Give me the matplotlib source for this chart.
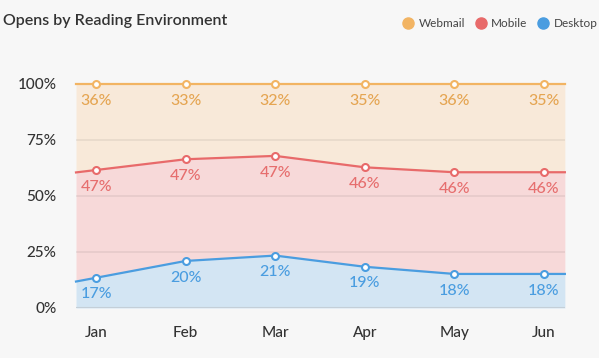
import numpy as np
import matplotlib.pyplot as plt
from matplotlib.lines import Line2D

plt.rcParams["font.family"] = ["Lato", "DejaVu Sans"]

# Data
months = ["Jan", "Feb", "Mar", "Apr", "May", "Jun"]
# plotted shares (as drawn in the chart)
desktop = [13.5, 21.0, 23.4, 18.4, 15.2, 15.2]
mobile = [48.1, 45.4, 44.5, 44.4, 45.4, 45.4]
webmail = [38.4, 33.6, 32.1, 37.2, 39.4, 39.4]
# printed labels
desktop_labels = [17, 20, 21, 19, 18, 18]
mobile_labels = [47, 47, 47, 46, 46, 46]
webmail_labels = [36, 33, 32, 35, 36, 35]
yticks = [0, 25, 50, 75, 100]

bg = "#f7f7f7"
series = [
    ("Desktop", desktop, desktop_labels, "#4a9de0", "#d3e5f3", "#4a9de0"),
    ("Mobile", mobile, mobile_labels, "#e86a6a", "#f7d9d9", "#e66e6e"),
    ("Webmail", webmail, webmail_labels, "#f2b463", "#f8e9d9", "#e5a552"),
]

fig = plt.figure(figsize=(5.99, 3.58), dpi=100, facecolor=bg)
ax = fig.add_axes([0.1269, 0.1397, 0.8161, 0.6257])
ax.set_facecolor(bg)

x = np.arange(len(months))
x0, x1 = -0.225, len(months) - 1 + 0.235
ax.set_xlim(x0, x1)
ax.set_ylim(0, 100)


def extend(vals):
    # continue the first and last segments out to the plot edges
    v = np.asarray(vals, dtype=float)
    left = v[0] + (v[1] - v[0]) * (x0 - x[0])
    right = v[-1] + (v[-1] - v[-2]) * (x1 - x[-1])
    return np.r_[x0, x, x1], np.r_[left, v, right]


base = np.zeros(len(months))
for name, vals, labels, lc, fc, tc in series:
    top = base + np.array(vals)
    xe, be = extend(base)
    _, te = extend(top)
    if name == "Desktop":
        be = np.zeros_like(te)
    ax.fill_between(xe, be, te, color=fc, lw=0, zorder=1)
    base = top

# grid lines over the fills
for t in [25, 50, 75]:
    ax.axhline(t, color="#000000", alpha=0.07, lw=1.2, zorder=2)
ax.axhline(0, color="#c4cfd8", lw=1.5, zorder=3)

base = np.zeros(len(months))
for name, vals, labels, lc, fc, tc in series:
    top = base + np.array(vals)
    xe, te = extend(top)
    ax.plot(xe, te, color=lc, lw=1.6, zorder=4, clip_on=False)
    ax.plot(x, top, "o", ms=5, mfc="white", mec=lc, mew=1.5, zorder=5, clip_on=False)
    for xi, yi, lab in zip(x, top, labels):
        ax.annotate(f"{lab}%", (xi, yi), xytext=(0, -12), textcoords="offset points",
                    ha="center", va="center", color=tc, fontsize=11.5, fontweight=500,
                    zorder=6)
    base = top

ax.set_xticks(x)
ax.set_xticklabels(months, fontweight=500)
ax.set_yticks(yticks)
ax.set_yticklabels([f"{t}%" for t in yticks], fontweight=500)
ax.tick_params(axis="both", length=0, labelsize=11, colors="#333333")
ax.tick_params(axis="x", pad=13)
ax.tick_params(axis="y", pad=14)
for sp in ax.spines.values():
    sp.set_visible(False)

fig.text(0.005, 0.94, "Opens by Reading Environment", fontsize=11.5, fontweight="semibold",
         color="#333333", va="center", ha="left")

handles = [Line2D([], [], marker="o", ls="", ms=8, color=c)
           for c in ["#f2b463", "#e86a6a", "#4a9de0"]]
fig.legend(handles, ["Webmail", "Mobile", "Desktop"], loc="center right",
           bbox_to_anchor=(1.015, 0.933), ncol=3, frameon=False, fontsize=8.5,
           handlelength=0.8, handletextpad=0.5, columnspacing=0.9, labelcolor="#444444")

fig.savefig("out.png", dpi=100, facecolor=bg)
